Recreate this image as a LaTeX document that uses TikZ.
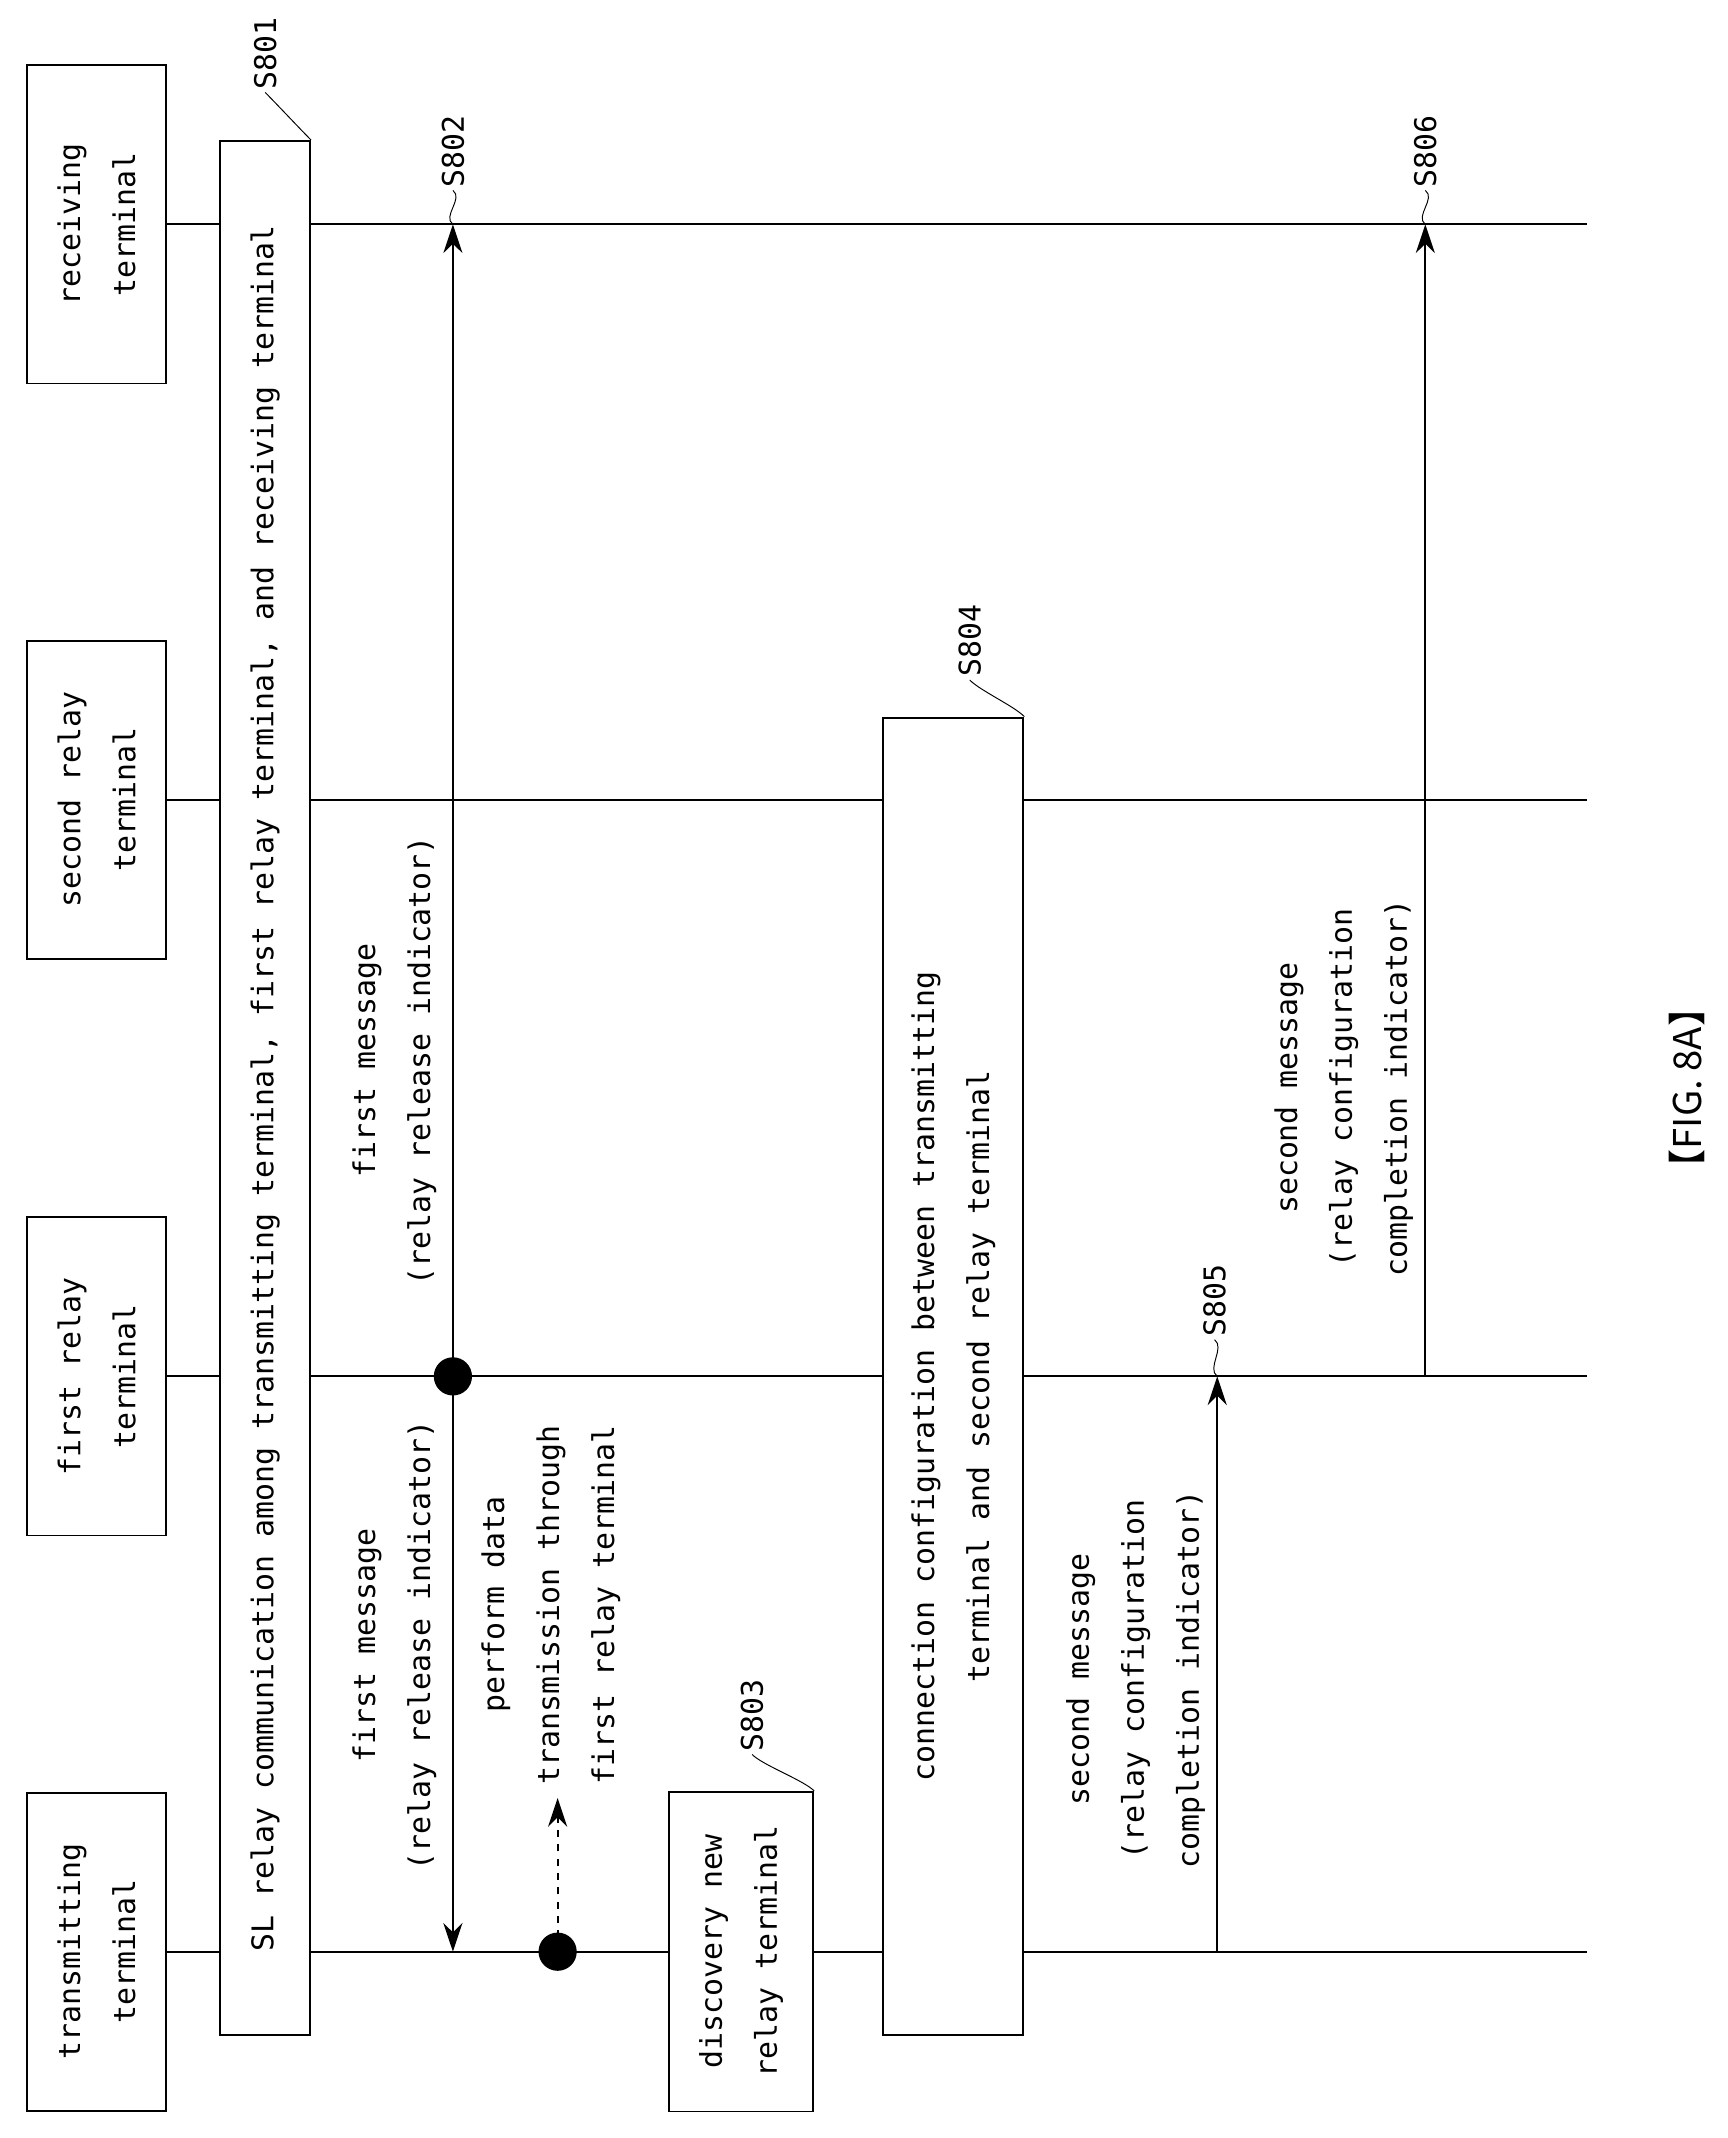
\documentclass[tikz,border=0pt]{standalone}
\usepackage{fontspec}
\setmonofont{DejaVu Sans Mono}
\newfontfamily\cjk{Noto Sans CJK SC}
\usetikzlibrary{arrows.meta,positioning}
\tikzset{
  head/.style={draw, thick, rotate=90, align=center, minimum width=4.68cm, minimum height=2.04cm},
  proc/.style={draw, thick, fill=white, rotate=90, align=center},
  msg/.style={rotate=90, align=center},
  tag/.style={rotate=90, anchor=west, inner sep=1pt}
}
\begin{document}
\begin{tikzpicture}[x=0.02cm, y=-0.02cm, font=\ttfamily\fontsize{12.5}{23}\selectfont,
                    >={Stealth[length=12pt,width=8pt]}, thick]
      \useasboundingbox (0,0) rectangle (1270,1572);

      % terminals
      \node[head] (R) at (71,165) {receiving\\terminal};
      \node[head] (Q) at (71,588) {second relay\\terminal};
      \node[head] (P) at (71,1012) {first relay\\terminal};
      \node[head] (T) at (71,1435) {transmitting\\terminal};

      \coordinate (Re) at (1167,165);
      \coordinate (Qe) at (1167,588);
      \coordinate (Pe) at (1167,1012);
      \coordinate (Te) at (1167,1435);
      \draw (R.south) -- (Re);
      \draw (Q.south) -- (Qe);
      \draw (P.south) -- (Pe);
      \draw (T.south) -- (Te);

      % steps
      \node[proc, minimum width=27.86cm, minimum height=1.32cm] (B1) at (195,800)
          {SL relay communication among transmitting terminal, first relay terminal, and receiving terminal};
      \node[proc, minimum width=4.7cm, minimum height=2.12cm] (B3) at (545,1435)
          {discovery new\\relay terminal};
      \node[proc, minimum width=19.38cm, minimum height=2.06cm] (B4) at (701,1012)
          {connection configuration between transmitting\\terminal and second relay terminal};

      % messages
      \fill (333,1012) circle (8pt) coordinate (D1);
      \coordinate (A2) at (333,165);
      \coordinate (A2b) at (333,1435);
      \draw[->] (D1) -- (A2);
      \draw[->] (D1) -- (A2b);
      \node[msg] (M1) at (290,780) {first message\\(relay release indicator)};
      \node[msg] (M2) at (290,1210) {first message\\(relay release indicator)};

      \fill (410,1435) circle (8pt) coordinate (D2);
      \coordinate (A3) at (410,1322);
      \draw[->, dashed] (D2) -- (A3);
      \node[msg] (M3) at (405,1180) {perform data\\transmission through\\first relay terminal};

      \coordinate (S5s) at (895,1435);
      \coordinate (S5e) at (895,1012);
      \draw[->] (S5s) -- (S5e);
      \node[msg] (M5) at (835,1235) {second message\\(relay configuration\\completion indicator)};

      \coordinate (S6s) at (1048,1012);
      \coordinate (S6e) at (1048,165);
      \draw[->] (S6s) -- (S6e);
      \node[msg] (M6) at (988,800) {second message\\(relay configuration\\completion indicator)};

      % step labels
      \node[tag] (L1) at (195,68) {S801};
      \node[tag] (L2) at (333,140) {S802};
      \node[tag] (L3) at (553,1290) {S803};
      \node[tag] (L4) at (713,500) {S804};
      \node[tag] (L5) at (893,985) {S805};
      \node[tag] (L6) at (1048,140) {S806};
      \draw[thin] (B1.south east) .. controls +(-8,-8) and +(8,8) .. (L1.west);
      \draw[thin] (A2) .. controls +(-8,-6) and +(8,6) .. (L2.west);
      \draw[thin] (B3.south east) .. controls +(-8,-8) and +(8,8) .. (L3.west);
      \draw[thin] (B4.south east) .. controls +(-8,-8) and +(8,8) .. (L4.west);
      \draw[thin] (S5e) .. controls +(-8,-6) and +(8,6) .. (L5.west);
      \draw[thin] (S6e) .. controls +(-8,-6) and +(8,6) .. (L6.west);

      \node[rotate=90, font=\cjk\fontsize{16}{18}\selectfont] (F) at (1240,800) {【FIG. 8A】};
\end{tikzpicture}
\end{document}
